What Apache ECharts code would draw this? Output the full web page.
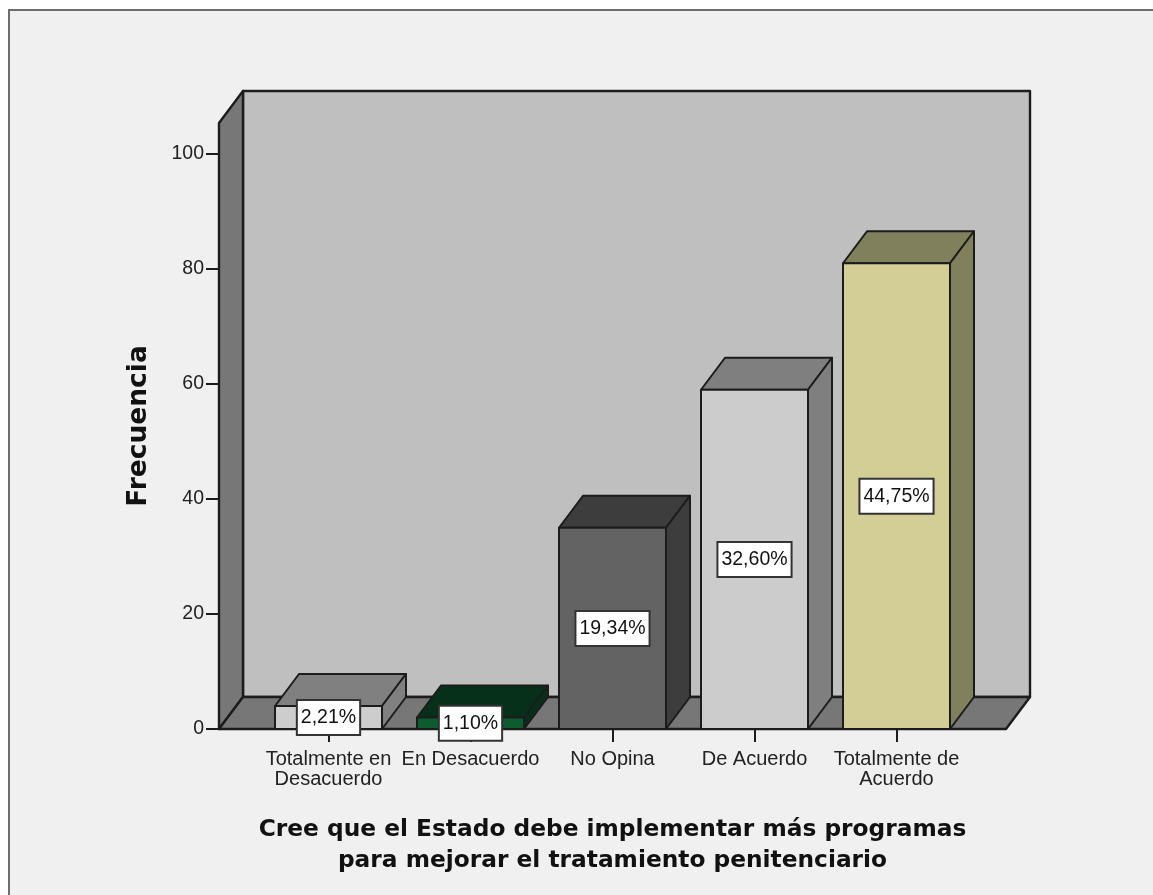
<!DOCTYPE html>
<html>
<head>
<meta charset="utf-8">
<style>html,body{margin:0;padding:0;background:#fff;overflow:hidden}#frame{position:absolute;left:8px;top:9px;right:-4px;bottom:-4px;background:#f0f0f0;border:2px solid #6e6e6e;box-sizing:border-box}#c{position:absolute;left:0;top:0;width:1153px;height:895px}</style>
<script src="https://cdn.jsdelivr.net/npm/echarts@6/dist/echarts.min.js"></script>
</head>
<body>
<div id="frame"></div>
<div id="c"></div>
<script>
const categories = ['Totalmente en\nDesacuerdo', 'En Desacuerdo', 'No Opina', 'De Acuerdo', 'Totalmente de\nAcuerdo'];
const frequencies = [4, 2, 35, 59, 81];
const percentLabels = ['2,21%', '1,10%', '19,34%', '32,60%', '44,75%'];
const yTicks = [0, 20, 40, 60, 80, 100];
const xTitle = 'Cree que el Estado debe implementar más programas\npara mejorar el tratamiento penitenciario';
const yTitle = 'Frecuencia';

const frontColors = ['#cdcdcd', '#0c5c30', '#636363', '#cccccc', '#d3ce96'];
const shadeColors = ['#808080', '#07301b', '#3d3d3d', '#7f7f7f', '#80805c'];
const LINE = '#1c1c1c';
const DX = 24, DY = -32;
const GRID = {left: 257.5, width: 710, top: 123, bottom: 895 - 729};
const WALL_LEFT = 219, WALL_RIGHT = 1006;
const BAR_RATIO = 107 / 142;

function poly(points, fill, lineWidth) {
  return {type: 'polygon', shape: {points}, style: {fill, stroke: LINE, lineWidth: lineWidth || 2, lineJoin: 'round'}};
}
function renderWalls(params, api) {
  const top = params.coordSys.y;
  const bottom = api.coord([0, 0])[1];
  return {type: 'group', children: [
    poly([[WALL_LEFT + DX, top + DY], [WALL_RIGHT + DX, top + DY], [WALL_RIGHT + DX, bottom + DY], [WALL_LEFT + DX, bottom + DY]], '#bfbfbf', 2.4),
    poly([[WALL_LEFT, top], [WALL_LEFT + DX, top + DY], [WALL_LEFT + DX, bottom + DY], [WALL_LEFT, bottom]], '#777777', 2.4),
    poly([[WALL_LEFT, bottom], [WALL_LEFT + DX, bottom + DY], [WALL_RIGHT + DX, bottom + DY], [WALL_RIGHT, bottom]], '#777777', 2.4)
  ]};
}
function renderBar(params, api) {
  const i = api.value(0);
  const [cx, yt] = api.coord([i, api.value(1)]);
  const yb = api.coord([i, 0])[1];
  const w = api.size([1, 0])[0] * BAR_RATIO;
  const l = cx - w / 2, r = cx + w / 2;
  return {type: 'group', children: [
    poly([[l, yt], [l + DX, yt + DY], [r + DX, yt + DY], [r, yt]], shadeColors[i]),
    poly([[r, yt], [r + DX, yt + DY], [r + DX, yb + DY], [r, yb]], shadeColors[i]),
    poly([[l, yt], [r, yt], [r, yb], [l, yb]], frontColors[i])
  ]};
}
function renderLabel(params, api) {
  const i = api.value(0);
  const [cx, yt] = api.coord([i, api.value(1)]);
  const yb = api.coord([i, 0])[1];
  return {type: 'text', x: cx, y: (yt + yb) / 2, style: {
    text: percentLabels[i], fill: '#111', font: '19.5px "Liberation Sans"',
    align: 'center', verticalAlign: 'middle',
    backgroundColor: '#ffffff', borderColor: '#333333', borderWidth: 2, padding: [8, 3, 5, 3]
  }};
}
const barData = frequencies.map((v, i) => [i, v]);
const chart = echarts.init(document.getElementById('c'), null, {renderer: 'canvas'});
chart.setOption({
  animation: false,
  backgroundColor: 'transparent',
  grid: GRID,
  xAxis: {
    type: 'category', data: categories,
    name: xTitle, nameLocation: 'middle', nameGap: 85,
    nameTextStyle: {fontFamily: 'DejaVu Sans', fontWeight: 'bold', fontSize: 23.3, color: '#111', lineHeight: 31},
    axisLine: {show: false},
    axisTick: {show: true, alignWithLabel: true, length: 13, lineStyle: {color: LINE, width: 2}},
    axisLabel: {color: '#222', fontFamily: 'Liberation Sans', fontSize: 20, lineHeight: 20, margin: 20, interval: 0}
  },
  yAxis: {
    type: 'value', min: 0, max: (729 - 123) / 5.75, offset: 38.5,
    name: yTitle, nameLocation: 'middle', nameGap: 66, nameRotate: 90,
    nameTextStyle: {fontFamily: 'DejaVu Sans', fontWeight: 'bold', fontSize: 26.5, color: '#111'},
    splitLine: {show: false},
    axisLine: {show: false},
    axisTick: {show: true, length: 13, customValues: yTicks, lineStyle: {color: LINE, width: 2}},
    axisLabel: {color: '#222', fontFamily: 'Liberation Sans', fontSize: 19.5, margin: 15, padding: [8, 0, 0, 0], customValues: yTicks, formatter: v => String(v)}
  },
  series: [
    {type: 'custom', name: 'walls', z: 1, clip: false, silent: true, data: [[0, 0]], renderItem: renderWalls, encode: {x: 0, y: 1}},
    {type: 'custom', name: 'Frecuencia', z: 2, clip: false, silent: true, data: barData, renderItem: renderBar, encode: {x: 0, y: 1}},
    {type: 'custom', name: 'Porcentaje', z: 5, clip: false, silent: true, data: barData, renderItem: renderLabel, encode: {x: 0, y: 1}}
  ]
});
</script>
</body>
</html>
